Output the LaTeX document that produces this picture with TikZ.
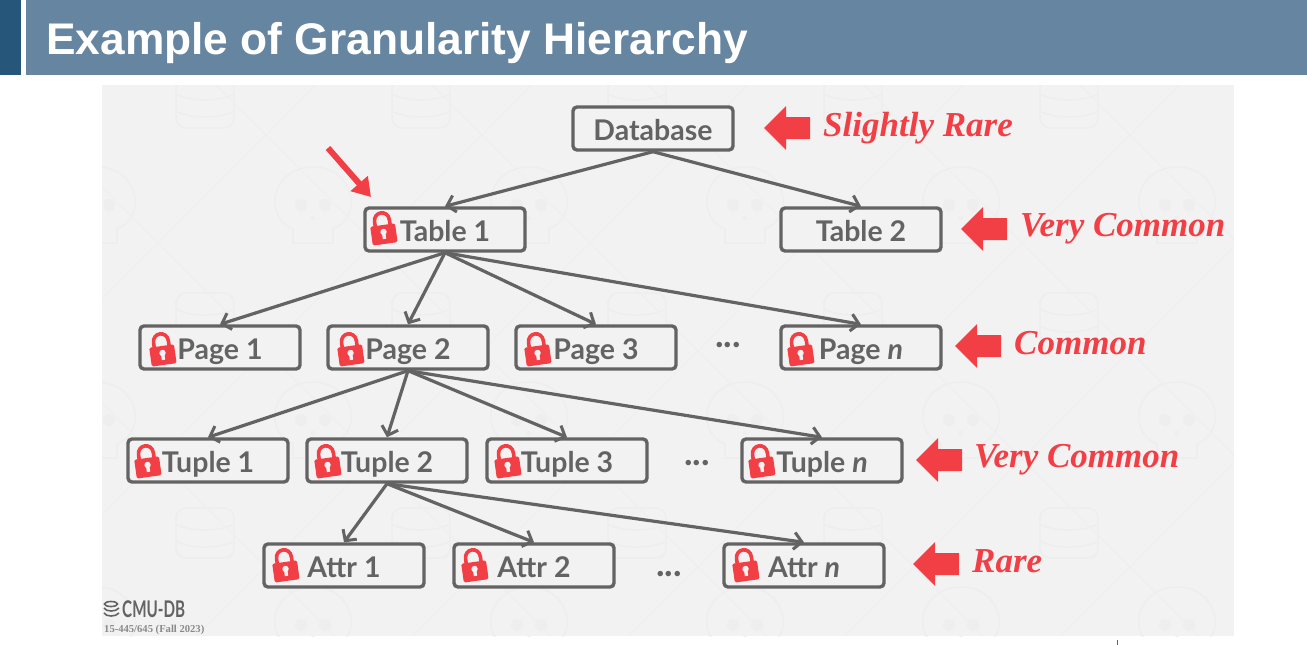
\documentclass[tikz,border=0pt]{standalone}
\usepackage{fontspec}
\setmainfont{Lato}
\newfontfamily\titlefont{Liberation Sans}
\newfontfamily\notefont{Liberation Serif}
\usetikzlibrary{arrows.meta}
\definecolor{hdrdark}{HTML}{27567B}
\definecolor{hdr}{HTML}{6685A1}
\definecolor{panel}{HTML}{F2F2F2}
\definecolor{wm}{HTML}{EEEEEE}
\definecolor{ink}{HTML}{636363}
\definecolor{lockred}{HTML}{F23F45}
\newcommand{\lbl}[1]{\raisebox{-11.5pt}[0pt][0pt]{#1}}
\tikzset{
  x=1pt,y=-1pt,
  box/.style={draw=ink,line width=3.4pt,rounded corners=4pt,minimum width=160pt,minimum height=43pt,inner sep=0pt,
    text=ink,font=\fontsize{28.5}{30}\selectfont\bfseries,fill=panel},
  link/.style={draw=ink,line width=3.2pt,-{Straight Barb[length=8pt,width=17pt,line width=3pt]}},
  note/.style={text=lockred,font=\notefont\fontsize{35}{38}\selectfont\bfseries\itshape,anchor=base west,inner sep=0pt},
  dots/.style={text=ink,font=\fontsize{36}{38}\selectfont\bfseries,inner sep=0pt},
  pics/lockicon/.style={code={
    \begin{scope}[rotate=8]
    \draw[lockred,line width=3.6pt] (-7.5,0) -- (-7.5,-7) .. controls (-7.5,-18) and (7.5,-18) .. (7.5,-7) -- (7.5,0);
    \fill[lockred,rounded corners=1.5pt] (-12.5,-3) rectangle (12.5,16);
    \fill[panel] (0,4) circle[radius=3.2pt];
    \fill[panel] (-1.7,5) rectangle (1.7,11);
    \end{scope}
  }},
  pics/bigarrow/.style={code={
    \fill[lockred] (0,0) -- (22,-22) -- (22,-11) -- (46,-11) -- (46,11) -- (22,11) -- (22,22) -- cycle;
  }},
  pics/wmdb/.style={code={
    \begin{scope}[draw=wm,line width=1.6pt]
    \draw[rounded corners=10pt] (-29,-22) -- (-29,28) -- (29,28) -- (29,-22) -- cycle;
    \draw (-29,-6) .. controls (-15,2) and (15,2) .. (29,-6);
    \draw (-29,11) .. controls (-15,19) and (15,19) .. (29,11);
    \end{scope}
  }},
  pics/wmskull/.style={code={
    \begin{scope}[draw=wm,line width=1.6pt]
    \draw (-20,38) -- (-20,24) .. controls (-52,10) and (-40,-38) .. (0,-38) .. controls (40,-38) and (52,10) .. (20,24) -- (20,38) -- cycle;
    \fill[wm] (-12,0) circle[radius=6pt];
    \fill[wm] (12,0) circle[radius=6pt];
    \fill[wm] (0,13) circle[radius=2.2pt];
    \end{scope}
  }},
}
\begin{document}
\begin{tikzpicture}
\useasboundingbox (0,0) rectangle (1307,645);
\fill[white] (0,0) rectangle (1307,645);
\fill[hdrdark] (0,0) rectangle (21,75);
\fill[hdr] (26,0) rectangle (1307,75);
\node[anchor=base west,text=white,font=\titlefont\fontsize{44.3}{46}\selectfont\bfseries,inner sep=0pt] (title) at (46,54) {Example of Granularity Hierarchy};
\fill[panel] (102,85) rectangle (1234,636);

\begin{scope}
\clip (102,85) rectangle (1234,636);
\foreach \k in {0,...,9} {
  \draw[wm,line width=1pt] (\k*216-432,85) -- ++(551,551);
  \draw[wm,line width=1pt] (\k*216+100,85) -- ++(-551,551);
}
\foreach \x in {205,421,637,853,1069} \foreach \y in {100,315,530} \pic at (\x,\y) {wmdb};
\foreach \x in {97,313,529,745,961,1177} \foreach \y in {205,420,625} \pic at (\x,\y) {wmskull};
\end{scope}

\node[box] (db) at (653,128.5) {\lbl{Database}};
\node[box] (t1) at (445,229.5) {\lbl{Table 1}};
\node[box] (t2) at (861,229.5) {\lbl{Table 2}};
\node[box] (p1) at (220,347.5) {\lbl{Page 1}};
\node[box] (p2) at (408,347.5) {\lbl{Page 2}};
\node[box] (p3) at (596,347.5) {\lbl{Page 3}};
\node[box] (pn) at (861,347.5) {\lbl{Page \textit{n}}};
\node[box] (u1) at (208,460.5) {\lbl{Tuple 1}};
\node[box] (u2) at (387,460.5) {\lbl{Tuple 2}};
\node[box] (u3) at (567,460.5) {\lbl{Tuple 3}};
\node[box] (un) at (822,460.5) {\lbl{Tuple \textit{n}}};
\node[box] (a1) at (344,565.5) {\lbl{Attr 1}};
\node[box] (a2) at (534,565.5) {\lbl{Attr 2}};
\node[box] (an) at (804,565.5) {\lbl{Attr \textit{n}}};

\foreach \s/\t in {db/t1,db/t2,t1/p1,t1/p2,t1/p3,t1/pn,p2/u1,p2/u2,p2/u3,p2/un,u2/a1,u2/a2,u2/an}
  \draw[link] (\s.south) -- (\t.north);

\foreach \x/\y in {383/228,162/349,350/349,537/349,800/349,147/461,327/461,507/461,761/461,285/565,474/565,745/565}
  \pic at (\x,\y) {lockicon};

\node[dots] (d1) at (728,345) {...};
\node[dots] (d2) at (697,463) {...};
\node[dots] (d3) at (669,574) {...};

\pic at (764,128) {bigarrow};
\pic at (961,229) {bigarrow};
\pic at (955,346) {bigarrow};
\pic at (916,460) {bigarrow};
\pic at (913,564) {bigarrow};
\node[note] (n1) at (823,136) {Slightly Rare};
\node[note] (n2) at (1020,236) {Very Common};
\node[note] (n3) at (1014,354) {Common};
\node[note] (n4) at (974,467) {Very Common};
\node[note] (n5) at (972,572) {Rare};

\coordinate (ptail) at (328,148);
\coordinate (ptip) at (371,197);
\draw[lockred,line width=6pt,-{Triangle[length=18pt,width=22pt]}] (ptail) -- (ptip);

\node[anchor=base west,inner sep=0pt,text=ink] (cmu) at (122,617) {\fontsize{23}{24}\selectfont\bfseries\scalebox{0.66}[1]{CMU-DB}};
\begin{scope}[draw=ink,line width=1.6pt]
\draw (111,604) ellipse[x radius=6.5pt,y radius=2.5pt];
\draw (104,608) .. controls (106,612) and (116,612) .. (119,608);
\draw (104,613) .. controls (106,617) and (116,617) .. (119,613);
\end{scope}
\node[anchor=base west,inner sep=0pt,text=ink!75,font=\notefont\fontsize{10.6}{11}\selectfont\bfseries] (course) at (104,632) {15-445/645 (Fall 2023)};
\draw[ink,line width=1pt] (1117,640) -- (1117,645);
\end{tikzpicture}
\end{document}
